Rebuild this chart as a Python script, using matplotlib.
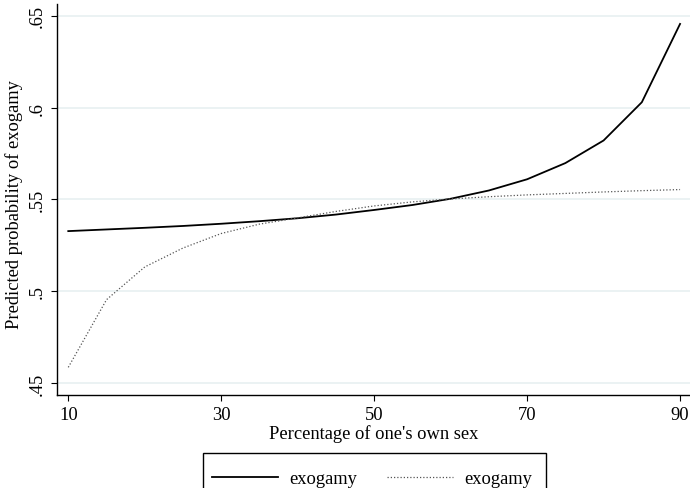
"""
Predicted probability of exogamy vs share of one's own sex
"""

import numpy as np
import matplotlib.pyplot as plt
from matplotlib.patches import Rectangle

plt.rcParams['font.family'] = ['Liberation Serif', 'DejaVu Serif']

# data
pct_own_sex = [10, 15, 20, 25, 30, 35, 40, 45, 50, 55, 60, 65, 70, 75, 80, 85, 90]
exogamy_solid = [.5328, .5337, .5346, .5356, .5368, .5382, .5398, .5418, .5443,
                 .5470, .5504, .5549, .5610, .5698, .5821, .6029, .6455]
exogamy_dotted = [.4587, .4955, .5133, .5236, .5315, .5366, .5400, .5435, .5465,
                  .5487, .5503, .5515, .5525, .5533, .5541, .5548, .5554]

x_ticks = [10, 30, 50, 70, 90]
y_ticks = [.45, .5, .55, .6, .65]
y_tick_labels = ['.45', '.5', '.55', '.6', '.65']
legend_labels = ['exogamy', 'exogamy']

FS = 13.3


def main():
    W, H = 690, 489
    fig = plt.figure(figsize=(W / 100, H / 100), dpi=100)
    ax = fig.add_axes([0.082, 0.190, 0.918, 0.800])

    # grid lines
    for y in y_ticks:
        ax.axhline(y, color='#e8f0f1', lw=1.2, zorder=0)

    l1, = ax.plot(pct_own_sex, exogamy_solid, color='black', lw=1.3)
    l2, = ax.plot(pct_own_sex, exogamy_dotted, color='#555555', lw=0.9,
                  linestyle=(0, (1, 1.6)))

    ax.set_xlim(8.47, 91.3)
    ax.set_ylim(.4436, .6564)
    ax.set_xticks(x_ticks)
    ax.set_yticks(y_ticks)
    ax.set_yticklabels(y_tick_labels, rotation=90, va='center')
    ax.tick_params(direction='out', length=4.5, width=0.8, labelsize=FS, pad=3)

    for side in ['top', 'right']:
        ax.spines[side].set_visible(False)
    for side in ['left', 'bottom']:
        ax.spines[side].set_linewidth(1.0)

    ax.set_xlabel("Percentage of one's own sex", fontsize=FS, labelpad=1)
    ax.set_ylabel('Predicted probability of exogamy', fontsize=FS)
    ax.yaxis.set_label_coords(-0.053, 0.49)

    # legend box (cut off by the bottom of the figure, as in the original)
    fig.patches.append(Rectangle((203 / W, -0.05), (546 - 203) / W,
                                 0.05 + 1 - 454 / H, transform=fig.transFigure,
                                 fill=False, edgecolor='black', lw=1.0))
    fig.legend([l1, l2], legend_labels, loc='center',
               bbox_to_anchor=(372 / W, 1 - 480 / H), ncol=2,
               frameon=False, fontsize=FS, handlelength=3.6,
               columnspacing=1.6, borderpad=0, borderaxespad=0,
               handletextpad=0.6)

    fig.savefig('out.png', dpi=100)


if __name__ == '__main__':
    main()
